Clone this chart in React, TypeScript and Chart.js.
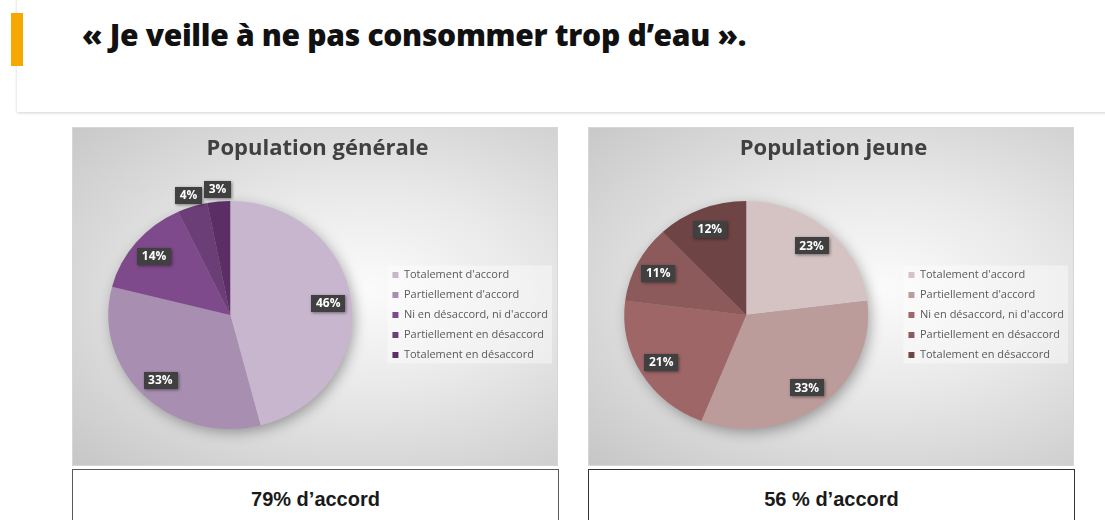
import React, { useEffect, useRef } from "react";
import { Chart, registerables } from "chart.js";

Chart.register(...registerables);

const categories = [
  "Totalement d'accord",
  "Partiellement d'accord",
  "Ni en désaccord, ni d'accord",
  "Partiellement en désaccord",
  "Totalement en désaccord",
];
const generalValues = [46, 33, 14, 4, 3];
const youngValues = [23, 33, 21, 11, 12];
const generalColors = ["#C8B6CE", "#A88FB1", "#7E4A8B", "#6B3E77", "#5B2F66"];
const youngColors = ["#D5C3C3", "#BC9B9B", "#9E6667", "#8C5A5B", "#6F4444"];

const mainTitle = "« Je veille à ne pas consommer trop d’eau ».";
const generalTitle = "Population générale";
const youngTitle = "Population jeune";
const generalSummary = "79% d’accord";
const youngSummary = "56 % d’accord";

const STRETCH_X = 1.07;
const FONT = "'Open Sans', 'DejaVu Sans', sans-serif";

const decorPlugin = {
  id: "pieDecor",
  beforeDraw(chart: any) {
    const lg = chart.legend;
    if (!lg || !lg.legendHitBoxes || !lg.legendHitBoxes.length) return;
    let l = Infinity, t = Infinity, r = -Infinity, b = -Infinity;
    for (const h of lg.legendHitBoxes) {
      l = Math.min(l, h.left);
      t = Math.min(t, h.top);
      r = Math.max(r, h.left + h.width);
      b = Math.max(b, h.top + h.height);
    }
    const ctx = chart.ctx;
    ctx.save();
    ctx.fillStyle = "rgba(255,255,255,0.4)";
    ctx.fillRect(l - 5, t - 4, r - l + 9, b - t + 7);
    ctx.restore();
  },
  beforeDatasetsDraw(chart: any) {
    const meta = chart.getDatasetMeta(0);
    const arc = meta.data[0];
    if (!arc) return;
    const { x, y, outerRadius } = arc;
    const ctx = chart.ctx;
    ctx.save();
    ctx.save();
    ctx.shadowColor = "rgba(0,0,0,0.35)";
    ctx.shadowBlur = 14;
    ctx.shadowOffsetX = 3;
    ctx.shadowOffsetY = 4;
    ctx.beginPath();
    ctx.ellipse(x, y, outerRadius * STRETCH_X - 1, outerRadius - 1, 0, 0, Math.PI * 2);
    ctx.fillStyle = "#a0a0a0";
    ctx.fill();
    ctx.restore();
    ctx.translate(x, y);
    ctx.scale(STRETCH_X, 1);
    ctx.translate(-x, -y);
  },
  afterDatasetsDraw(chart: any) {
    const ctx = chart.ctx;
    ctx.restore();
    const meta = chart.getDatasetMeta(0);
    const values = chart.data.datasets[0].data as number[];
    ctx.save();
    ctx.font = `bold 12px ${FONT}`;
    meta.data.forEach((a: any, i: number) => {
      const v = values[i];
      const mid = (a.startAngle + a.endAngle) / 2;
      const r = v < 5 ? a.outerRadius + 12 : a.outerRadius * 0.81;
      const lx = a.x + Math.cos(mid) * r * STRETCH_X;
      const ly = a.y + Math.sin(mid) * r;
      const text = `${v}%`;
      const tw = ctx.measureText(text).width;
      const w = tw + 9;
      const h = 17;
      ctx.save();
      ctx.shadowColor = "rgba(0,0,0,0.45)";
      ctx.shadowBlur = 3;
      ctx.shadowOffsetX = 1;
      ctx.shadowOffsetY = 1;
      ctx.fillStyle = "#404040";
      ctx.fillRect(Math.round(lx - w / 2), Math.round(ly - h / 2), Math.round(w), h);
      ctx.restore();
      ctx.fillStyle = "#ffffff";
      ctx.textAlign = "center";
      ctx.textBaseline = "middle";
      ctx.fillText(text, lx, ly + 0.5);
    });
    ctx.restore();
  },
};

function PiePanel(props: { left: number; title: string; values: number[]; colors: string[] }) {
  const ref = useRef<HTMLCanvasElement | null>(null);
  useEffect(() => {
    if (!ref.current) return;
    const chart = new Chart(ref.current, {
      type: "pie",
      data: {
        labels: categories,
        datasets: [
          {
            data: props.values,
            backgroundColor: props.colors,
            borderWidth: 0,
            hoverOffset: 0,
          },
        ],
      },
      options: {
        responsive: false,
        animation: false,
        layout: { padding: { left: 5, right: 0, top: 0, bottom: 37 } },
        plugins: {
          title: {
            display: true,
            text: props.title,
            color: "#404040",
            font: { family: FONT, size: 22, weight: "bold" },
            padding: { top: 9, bottom: 38.6 },
          },
          legend: {
            position: "right",
            fullSize: false,
            labels: {
              boxWidth: 6,
              boxHeight: 6,
              padding: 9,
              color: "#595959",
              font: { family: FONT, size: 11 },
            },
          },
          tooltip: { enabled: false },
        },
      } as any,
      plugins: [decorPlugin],
    });
    return () => chart.destroy();
  }, []);
  return (
    <div
      style={{
        position: "absolute",
        left: props.left,
        top: 127,
        width: 486,
        height: 339,
        background:
          "radial-gradient(farthest-corner at 60% 48%, #fbfbfb 0%, #e9e9e9 40%, #c6c6c6 100%)",
        boxShadow: "inset 0 0 0 1px #d6d6d6",
      }}
    >
      <canvas ref={ref} width={486} height={339} style={{ display: "block" }} />
    </div>
  );
}

function SummaryBox(props: { left: number; text: string; border: string }) {
  return (
    <div
      style={{
        position: "absolute",
        left: props.left,
        top: 469,
        width: 487,
        height: 70,
        boxSizing: "border-box",
        border: `1.5px solid ${props.border}`,
        background: "#fff",
      }}
    >
      <div
        style={{
          position: "absolute",
          left: 0,
          right: 0,
          top: 17,
          textAlign: "center",
          fontFamily: "'Liberation Sans', Arial, sans-serif",
          fontWeight: "bold",
          fontSize: 20,
          lineHeight: "24px",
          color: "#1a1a1a",
        }}
      >
        {props.text}
      </div>
    </div>
  );
}

export default function App() {
  return (
    <div
      style={{
        position: "fixed",
        left: 0,
        top: 0,
        width: 1105,
        height: 520,
        background: "#ffffff",
        overflow: "hidden",
      }}
    >
      <div
        style={{
          position: "absolute",
          left: 17,
          top: -6,
          width: 1100,
          height: 118,
          background: "#fff",
          boxShadow: "0 1px 3px rgba(0,0,0,0.18)",
        }}
      />
      <div style={{ position: "absolute", left: 11, top: 13, width: 12, height: 53, background: "#F5A800" }} />
      <div
        style={{
          position: "absolute",
          left: 82,
          top: 15,
          fontFamily: "'Open Sans', Lato, sans-serif",
          fontWeight: 800,
          fontSize: 30,
          lineHeight: "40px",
          color: "#111",
          whiteSpace: "nowrap",
          letterSpacing: "-0.3px",
        }}
      >
        {mainTitle}
      </div>
      <PiePanel left={72} title={generalTitle} values={generalValues} colors={generalColors} />
      <PiePanel left={588} title={youngTitle} values={youngValues} colors={youngColors} />
      <SummaryBox left={72} text={generalSummary} border="#5a5a5a" />
      <SummaryBox left={588} text={youngSummary} border="#333333" />
    </div>
  );
}
